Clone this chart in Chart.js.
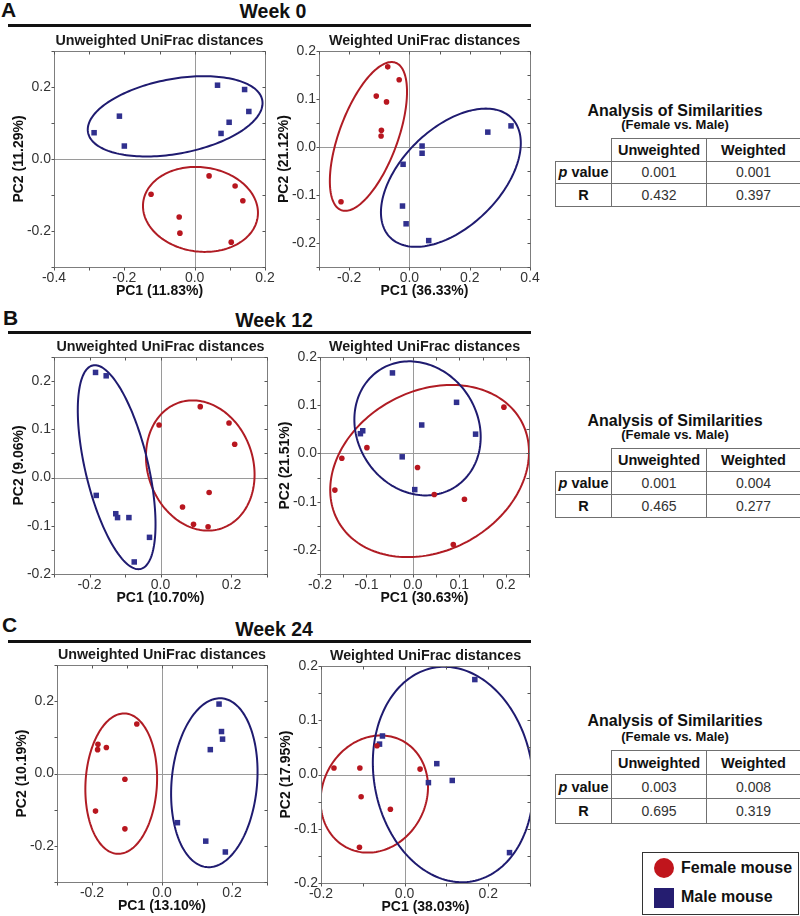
<!DOCTYPE html>
<html>
<head>
<meta charset="utf-8">
<script src="https://cdn.jsdelivr.net/npm/chart.js@4.4.1/dist/chart.umd.min.js"></script>
<style>
  body { margin: 0; width: 800px; height: 916px; position: relative; background: #fff;
         font-family: "Liberation Sans", Arial, sans-serif; color: #111; overflow: hidden; }
  .abs { position: absolute; }
  .letter { font-weight: bold; font-size: 21px; line-height: 21px; }
  .week { font-weight: bold; font-size: 19.5px; line-height: 19.5px; width: 200px; text-align: center; }
  .rule { height: 3px; background: #111; left: 8px; width: 523px; }
  .plot { position: absolute; }
  .ttl { font-weight: bold; font-size: 16px; line-height: 16px; text-align: center; width: 244px; left: 553px; }
  .sub { font-weight: bold; font-size: 13px; line-height: 13px; text-align: center; width: 244px; left: 553px; }
  table.anosim { position: absolute; left: 555px; border-collapse: collapse; table-layout: fixed; width: 245px; }
  table.anosim td { border: 1px solid #707070; text-align: center; padding: 0; font-size: 14px; color: #333; }
  table.anosim td.h { font-weight: bold; font-size: 14.5px; color: #111; }
  table.anosim td.blank { border-top: none; border-left: none; }
  .legend { left: 642px; top: 852px; width: 155px; height: 61px; border: 1px solid #333; }
  .legtxt { font-weight: bold; font-size: 16px; line-height: 16px; }
</style>
</head>
<body>

<div class="abs letter" style="left:1px;top:-1px">A</div>
<div class="abs week" style="left:173px;top:2px">Week 0</div>
<div class="abs rule" style="top:24px"></div>

<div class="abs letter" style="left:3px;top:307px">B</div>
<div class="abs week" style="left:174px;top:311px">Week 12</div>
<div class="abs rule" style="top:331px"></div>

<div class="abs letter" style="left:2px;top:614px">C</div>
<div class="abs week" style="left:174px;top:620px">Week 24</div>
<div class="abs rule" style="top:640px"></div>

<div id="plots"></div>
<div id="tables"></div>

<div class="abs legend"></div>
<div class="abs" style="left:654px;top:858px;width:20px;height:20px;border-radius:50%;background:#c0151c"></div>
<div class="abs" style="left:654px;top:888px;width:20px;height:20px;background:#251d70"></div>
<div class="abs legtxt" style="left:681px;top:860px">Female mouse</div>
<div class="abs legtxt" style="left:681px;top:889px">Male mouse</div>

<script>
// ---- data (PC1, PC2) ----
// Week 0
var w0uFemale = [[0.041,-0.047],[0.115,-0.075],[0.137,-0.116],[-0.124,-0.098],[-0.044,-0.161],[-0.042,-0.206],[0.104,-0.231]];
var w0uMale   = [[0.065,0.205],[0.142,0.193],[0.154,0.132],[0.098,0.102],[0.075,0.071],[-0.214,0.119],[-0.286,0.073],[-0.200,0.036]];
var w0wFemale = [[-0.072,0.167],[-0.034,0.140],[-0.110,0.106],[-0.076,0.094],[-0.093,0.035],[-0.094,0.023],[-0.227,-0.114]];
var w0wMale   = [[0.337,0.044],[0.260,0.031],[0.042,0.002],[0.042,-0.013],[-0.021,-0.036],[-0.023,-0.123],[-0.011,-0.160],[0.064,-0.195]];
// Week 12
var w12uFemale = [[-0.004,0.109],[0.112,0.147],[0.193,0.113],[0.209,0.069],[0.137,-0.031],[0.062,-0.061],[0.093,-0.097],[0.134,-0.102]];
var w12uMale   = [[-0.183,0.218],[-0.153,0.211],[-0.181,-0.037],[-0.126,-0.075],[-0.121,-0.083],[-0.089,-0.083],[-0.031,-0.124],[-0.074,-0.175]];
var w12wFemale = [[0.196,0.096],[-0.099,0.012],[-0.153,-0.010],[-0.168,-0.076],[0.010,-0.029],[0.046,-0.085],[0.111,-0.095],[0.087,-0.189]];
var w12wMale   = [[-0.044,0.167],[0.094,0.106],[0.019,0.059],[0.135,0.040],[-0.108,0.047],[-0.113,0.041],[-0.023,-0.007],[0.004,-0.075]];
// Week 24
var w24uFemale = [[-0.072,0.137],[-0.183,0.081],[-0.184,0.066],[-0.159,0.072],[-0.106,-0.016],[-0.190,-0.104],[-0.106,-0.153]];
var w24uMale   = [[0.163,0.192],[0.170,0.116],[0.173,0.095],[0.138,0.066],[0.044,-0.136],[0.125,-0.187],[0.181,-0.217]];
var w24wFemale = [[-0.066,0.053],[-0.169,0.012],[-0.107,0.012],[0.037,0.010],[-0.104,-0.041],[-0.034,-0.064],[-0.108,-0.134]];
var w24wMale   = [[0.168,0.175],[-0.053,0.071],[-0.060,0.056],[0.077,0.020],[0.114,-0.011],[0.057,-0.015],[0.251,-0.144]];

// confidence ellipses: [centre PC1, centre PC2, half width, half height, tilt (correlation)]
var w0uFemaleEll  = [0.0165,-0.140,0.1635,0.118,-0.08];
var w0uMaleEll    = [-0.0555,0.1185,0.2485,0.1115,0.33];
var w0wFemaleEll  = [-0.136,0.022,0.128,0.155,0.6];
var w0wMaleEll    = [0.1375,-0.064,0.232,0.144,0.5];
var w12uFemaleEll = [0.112,0.025,0.153,0.135,-0.14];
var w12uMaleEll   = [-0.1235,0.0215,0.1095,0.2115,-0.56];
var w12wFemaleEll = [0.036,-0.0365,0.214,0.1785,0.22];
var w12wMaleEll   = [0.010,0.052,0.136,0.139,-0.13];
var w24uFemaleEll = [-0.1165,-0.028,0.1025,0.194,0.08];
var w24uMaleEll   = [0.1495,-0.0255,0.1235,0.2335,0.13];
var w24wFemaleEll = [-0.0725,-0.036,0.1285,0.108,0.12];
var w24wMaleEll   = [0.116,0.0,0.192,0.1985,-0.11];

// axis ranges: [min, max, tick step, label step]
var w0uX = [-0.4,0.2,0.1,0.2],   w0uY = [-0.3,0.3,0.1,0.2];
var w0wX = [-0.3,0.4,0.1,0.2],   w0wY = [-0.25,0.2,0.05,0.1];
var w12uX = [-0.3,0.3,0.1,0.2],  w12uY = [-0.2,0.25,0.05,0.1];
var w12wX = [-0.2,0.25,0.05,0.1], w12wY = [-0.25,0.2,0.05,0.1];
var w24uX = [-0.3,0.3,0.1,0.2],  w24uY = [-0.3,0.3,0.1,0.2];
var w24wX = [-0.2,0.3,0.1,0.2],  w24wY = [-0.2,0.2,0.05,0.1];

// ANOSIM table values (week 0, 12, 24)
var weekLabels   = ['Week 0', 'Week 12', 'Week 24'];
var unweightedP  = ['0.001', '0.001', '0.003'];
var weightedP    = ['0.001', '0.004', '0.008'];
var unweightedR  = ['0.432', '0.465', '0.695'];
var weightedR    = ['0.397', '0.277', '0.319'];

var FEMALE = '#b8161f', MALE = '#30308e';
var FEMALE_LINE = '#b01c24', MALE_LINE = '#1f1b70';
var FONT = '"Liberation Sans", Arial, sans-serif';

function toPoints(arr) {
    return arr.map(function(p) { return { x: p[0], y: p[1] }; });
}

function isLabelTick(v, step) {
    return Math.abs(Math.round(v / step) * step - v) < 1e-9;
}

// zero lines + ellipses under the points, frame + tick marks over them, subtitle on top
var pcoaDecor = {
    id: 'pcoaDecor',
    beforeDatasetsDraw: function(chart) {
        var ctx = chart.ctx, a = chart.chartArea, x = chart.scales.x, y = chart.scales.y;
        var o = chart.options.plugins.pcoaDecor;
        ctx.save();
        ctx.strokeStyle = '#9a9a9a';
        ctx.lineWidth = 1;
        var x0 = Math.round(x.getPixelForValue(0)) + 0.5;
        var y0 = Math.round(y.getPixelForValue(0)) + 0.5;
        ctx.beginPath();
        ctx.moveTo(x0, a.top); ctx.lineTo(x0, a.bottom);
        ctx.moveTo(a.left, y0); ctx.lineTo(a.right, y0);
        ctx.stroke();

        ctx.beginPath();
        ctx.rect(a.left, a.top, a.right - a.left, a.bottom - a.top);
        ctx.clip();
        o.ellipses.forEach(function(e) {
            var cx = e.p[0], cy = e.p[1], sx = e.p[2], sy = e.p[3], rho = e.p[4];
            var k = Math.sqrt(1 - rho * rho);
            ctx.beginPath();
            for (var i = 0; i <= 180; i++) {
                var t = i / 180 * Math.PI * 2;
                var px = x.getPixelForValue(cx + sx * Math.cos(t));
                var py = y.getPixelForValue(cy + sy * (rho * Math.cos(t) + k * Math.sin(t)));
                if (i === 0) ctx.moveTo(px, py); else ctx.lineTo(px, py);
            }
            ctx.closePath();
            ctx.strokeStyle = e.color;
            ctx.lineWidth = 2;
            ctx.stroke();
        });
        ctx.restore();
    },
    afterDatasetsDraw: function(chart) {
        var ctx = chart.ctx, a = chart.chartArea, x = chart.scales.x, y = chart.scales.y;
        var l = Math.round(a.left) + 0.5, t = Math.round(a.top) + 0.5;
        var r = Math.round(a.right) + 0.5, b = Math.round(a.bottom) + 0.5;
        ctx.save();
        ctx.lineWidth = 1;
        ctx.strokeStyle = '#7d7d7d';
        ctx.beginPath();
        ctx.moveTo(l, t); ctx.lineTo(r, t); ctx.lineTo(r, b); ctx.lineTo(l, b); ctx.closePath();
        ctx.stroke();

        ctx.strokeStyle = '#555555';
        ctx.beginPath();
        x.ticks.forEach(function(tk) {
            var px = Math.round(x.getPixelForValue(tk.value)) + 0.5;
            ctx.moveTo(px, b); ctx.lineTo(px, b + 3);
            ctx.moveTo(px, t); ctx.lineTo(px, t + 3);
        });
        y.ticks.forEach(function(tk) {
            var py = Math.round(y.getPixelForValue(tk.value)) + 0.5;
            ctx.moveTo(l - 3, py); ctx.lineTo(l, py);
            ctx.moveTo(r - 3, py); ctx.lineTo(r, py);
        });
        ctx.stroke();
        ctx.restore();
    },
    afterDraw: function(chart) {
        var ctx = chart.ctx, a = chart.chartArea;
        var o = chart.options.plugins.pcoaDecor;
        ctx.save();
        ctx.fillStyle = '#1a1a1a';
        ctx.font = 'bold 14.3px ' + FONT;
        ctx.textAlign = 'center';
        ctx.textBaseline = 'middle';
        ctx.fillText(o.subtitle, (a.left + a.right) / 2, a.top - 9.5);
        ctx.restore();
    }
};

function makeAxis(range, title, horizontal) {
    return {
        type: 'linear',
        min: range[0],
        max: range[1],
        grid: { display: false, drawTicks: false },
        border: { display: false },
        ticks: {
            stepSize: range[2],
            autoSkip: false,
            maxRotation: 0,
            padding: 3,
            color: '#333',
            font: { family: FONT, size: 14 },
            callback: function(v) {
                if (!isLabelTick(v, range[3])) return '';
                return (Math.round(v * 10) / 10).toFixed(1);
            }
        },
        title: {
            display: true,
            text: title,
            color: '#111',
            font: { family: FONT, size: 14, weight: 'bold' },
            padding: horizontal ? { top: 0, bottom: 1.6 } : { top: 7, bottom: 0 }
        },
        afterFit: function(s) {
            if (horizontal) s.height = 34; else s.width = 50;
        }
    };
}

// area = chart area target [left, top, right, bottom] on the page
function makePlot(area, subtitle, female, male, femaleEll, maleEll, xr, yr, xTitle, yTitle) {
    var L = area[0], T = area[1], R = area[2], B = area[3];
    var box = document.createElement('div');
    box.className = 'plot';
    var w = Math.round(R - L + 64), h = Math.round(B - T + 56);
    box.style.left = (L - 50) + 'px';
    box.style.top = (T - 22) + 'px';
    var cv = document.createElement('canvas');
    cv.width = w; cv.height = h;
    cv.style.width = w + 'px'; cv.style.height = h + 'px';
    box.appendChild(cv);
    document.getElementById('plots').appendChild(box);

    new Chart(cv.getContext('2d'), {
        type: 'scatter',
        data: {
            datasets: [{
                label: 'Female mouse',
                data: toPoints(female),
                pointStyle: 'circle',
                pointRadius: 2.8,
                pointBackgroundColor: FEMALE,
                pointBorderWidth: 0
            }, {
                label: 'Male mouse',
                data: toPoints(male),
                pointStyle: 'rect',
                pointRadius: 3.9,
                pointBackgroundColor: MALE,
                pointBorderWidth: 0
            }]
        },
        options: {
            responsive: false,
            animation: false,
            devicePixelRatio: 1,
            layout: { padding: { top: 22, right: 14, left: 0, bottom: 0 } },
            scales: {
                x: makeAxis(xr, xTitle, true),
                y: makeAxis(yr, yTitle, false)
            },
            plugins: {
                legend: { display: false },
                tooltip: { enabled: false },
                pcoaDecor: {
                    subtitle: subtitle,
                    ellipses: [{ p: femaleEll, color: FEMALE_LINE }, { p: maleEll, color: MALE_LINE }]
                }
            }
        },
        plugins: [pcoaDecor]
    });
}

makePlot([54, 51, 265, 267], 'Unweighted UniFrac distances', w0uFemale, w0uMale, w0uFemaleEll, w0uMaleEll, w0uX, w0uY, 'PC1 (11.83%)', 'PC2 (11.29%)');
makePlot([319, 51, 530, 267], 'Weighted UniFrac distances', w0wFemale, w0wMale, w0wFemaleEll, w0wMaleEll, w0wX, w0wY, 'PC1 (36.33%)', 'PC2 (21.12%)');
makePlot([54, 357, 266.7, 574], 'Unweighted UniFrac distances', w12uFemale, w12uMale, w12uFemaleEll, w12uMaleEll, w12uX, w12uY, 'PC1 (10.70%)', 'PC2 (9.06%)');
makePlot([320, 357, 529, 574], 'Weighted UniFrac distances', w12wFemale, w12wMale, w12wFemaleEll, w12wMaleEll, w12wX, w12wY, 'PC1 (30.63%)', 'PC2 (21.51%)');
makePlot([56.7, 665, 267, 882], 'Unweighted UniFrac distances', w24uFemale, w24uMale, w24uFemaleEll, w24uMaleEll, w24uX, w24uY, 'PC1 (13.10%)', 'PC2 (10.19%)');
makePlot([321, 666, 530, 883], 'Weighted UniFrac distances', w24wFemale, w24wMale, w24wFemaleEll, w24wMaleEll, w24wX, w24wY, 'PC1 (38.03%)', 'PC2 (17.95%)');

// ANOSIM tables, one per week
var tableTops = [138, 448, 750];
var rowHeights = [23.6, 24.1, 25.2];
var titleCenters = [110.8, 420.5, 721.3];
var subCenters = [124.3, 434.2, 736.2];

function addDiv(cls, text, top) {
    var d = document.createElement('div');
    d.className = 'abs ' + cls;
    d.style.top = top + 'px';
    d.textContent = text;
    document.getElementById('tables').appendChild(d);
}

weekLabels.forEach(function(wk, i) {
    addDiv('ttl', 'Analysis of Similarities', titleCenters[i] - 0.4885 * 16);
    addDiv('sub', '(Female vs. Male)', subCenters[i] - 0.4885 * 13);
    var rh = rowHeights[i] - 1;
    var t = document.createElement('table');
    t.className = 'anosim';
    t.style.top = tableTops[i] + 'px';
    t.innerHTML =
        '<colgroup><col style="width:56px"><col style="width:95px"><col style="width:94px"></colgroup>' +
        '<tr style="height:' + rh + 'px"><td class="blank"></td><td class="h">Unweighted</td><td class="h">Weighted</td></tr>' +
        '<tr style="height:' + rh + 'px"><td class="h"><i>p</i> value</td><td>' + unweightedP[i] + '</td><td>' + weightedP[i] + '</td></tr>' +
        '<tr style="height:' + rh + 'px"><td class="h">R</td><td>' + unweightedR[i] + '</td><td>' + weightedR[i] + '</td></tr>';
    document.getElementById('tables').appendChild(t);
});
</script>
</body>
</html>
